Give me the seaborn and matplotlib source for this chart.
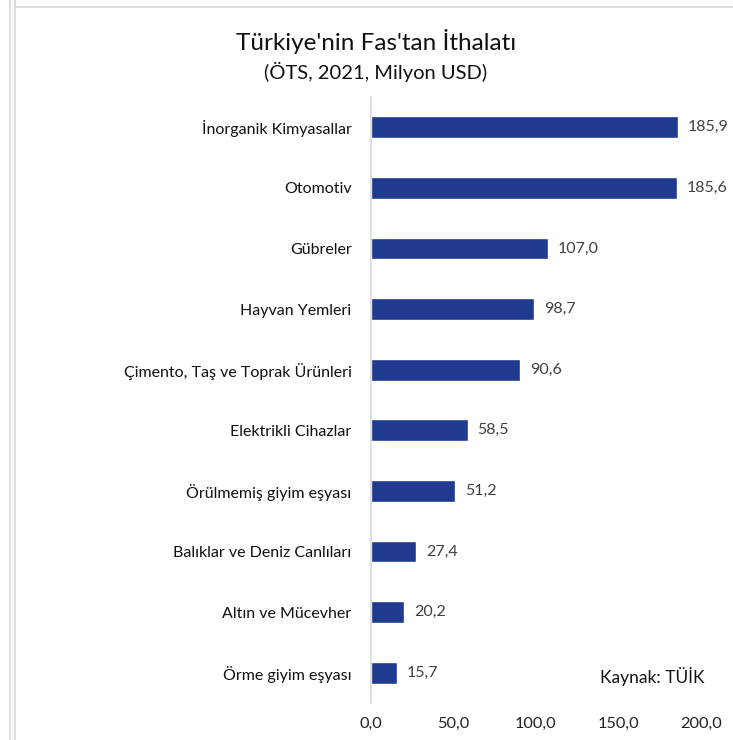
import matplotlib
matplotlib.use("Agg")
import matplotlib.pyplot as plt
import seaborn as sns
import pandas as pd
from matplotlib.lines import Line2D

categories = ["İnorganik Kimyasallar", "Otomotiv", "Gübreler", "Hayvan Yemleri",
              "Çimento, Taş ve Toprak Ürünleri", "Elektrikli Cihazlar",
              "Örülmemiş giyim eşyası", "Balıklar ve Deniz Canlıları",
              "Altın ve Mücevher", "Örme giyim eşyası"]
values = [185.9, 185.6, 107.0, 98.7, 90.6, 58.5, 51.2, 27.4, 20.2, 15.7]
xticks = [0, 50, 100, 150, 200]
title = "Türkiye'nin Fas'tan İthalatı"
subtitle = "(ÖTS, 2021, Milyon USD)"
source = "Kaynak: TÜİK"

sns.set_theme(style="white")
plt.rcParams['font.family'] = ['Lato', 'DejaVu Sans']

df = pd.DataFrame({"cat": categories, "val": values})

fig = plt.figure(figsize=(7.33, 7.40), dpi=100)
W, H = 733, 740
ax = fig.add_axes([371 / W, 1 - 703 / H, (701 - 371) / W, (703 - 97) / H])

sns.barplot(data=df, x="val", y="cat", ax=ax, color="#203a8f", width=0.36,
            saturation=1, orient="h")
ax.set_xlim(0, 200)
ax.set_ylim(9.5, -0.5)
ax.set_xlabel("")
ax.set_ylabel("")
ax.set_xticks(xticks)
ax.set_xticklabels([f"{t:.1f}".replace(".", ",") for t in xticks], fontsize=11.8, color="#222222")
ax.tick_params(axis="y", labelsize=11.5, colors="#111111", length=0, pad=14)
ax.tick_params(axis="x", length=0, pad=10)
for s in ["top", "right", "bottom"]:
    ax.spines[s].set_visible(False)
ax.spines["left"].set_color("#d9d9d9")
ax.spines["left"].set_linewidth(1.2)

for i, v in enumerate(values):
    ax.text(v + 6, i, f"{v:.1f}".replace(".", ","), va="center", ha="left",
            fontsize=11.5, color="#404040")

fig.text(376 / W, 1 - 42 / H, title, ha="center", va="center", fontsize=17.5, color="#111111")
fig.text(376 / W, 1 - 72 / H, subtitle, ha="center", va="center", fontsize=14.5, color="#111111")
fig.text(600 / W, 1 - 677 / H, source, ha="left", va="center", fontsize=12.5, color="#111111")

# frame lines
for x in [9.5, 14.5]:
    fig.add_artist(Line2D([x / W, x / W], [0, 1], color="#d9d9d9", lw=1.2))
fig.add_artist(Line2D([14.5 / W, 1], [1 - 7 / H, 1 - 7 / H], color="#d9d9d9", lw=1.2))

fig.savefig("out.png", dpi=100)
